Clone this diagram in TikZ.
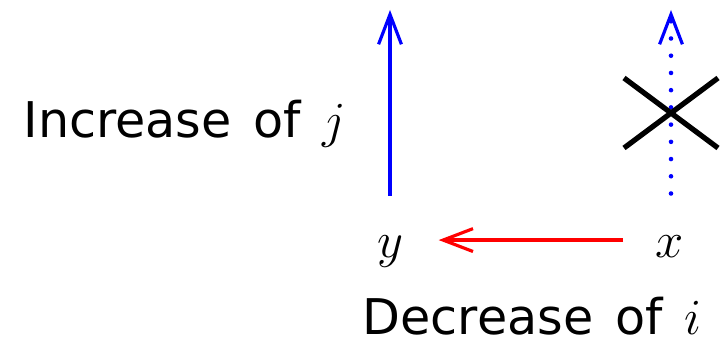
\documentclass[tikz,border=0pt]{standalone}
\usepackage{fontspec}
\setsansfont{DejaVu Sans}[WordSpace=1.4]
\usepackage{tikz}
\usetikzlibrary{arrows.meta,positioning,calc}

\begin{document}
\begin{tikzpicture}[
    every node/.style={font=\fontsize{15}{18}\selectfont, inner sep=0pt},
    labelnode/.style={anchor=base},
    dirtext/.style={font=\sffamily\fontsize{14}{17}\selectfont},
    movearrow/.style={line width=1.3pt, -{Straight Barb[length=8.5pt,width=6.5pt,line width=0.9pt]}},
    crossline/.style={line width=1.5pt, black},
]
\useasboundingbox (0,0) rectangle (7.22,3.41);

% Points
\node[labelnode] (y) at (3.90,0.83) {$y$};
\node[labelnode] (x) at (6.70,0.83) {$x$};
\coordinate (ytip) at (3.90,3.31);
\coordinate (xtip) at (6.71,3.31);

% Direction labels
\node[dirtext, anchor=base east] (incj) at (3.47,2.03) {Increase of $j$};
\node[dirtext, anchor=base west] (deci) at (3.62,0.06) {Decrease of $i$};

% Allowed and forbidden moves
\draw[movearrow, blue, shorten <=0.40cm] (y.north) -- (ytip);
\draw[movearrow, red, shorten <=0.32cm, shorten >=0.35cm]
    ([yshift=2pt]x.west) -- ([yshift=2pt]x.west -| y.east);
\draw[movearrow, blue, dash pattern=on 0pt off 4.9pt, line cap=round, shorten <=0.42cm] (x.north -| xtip) -- (xtip);

% Cross over the forbidden move
\coordinate (cross) at (6.71,2.28);
\draw[crossline] ($(cross)+(-0.47,-0.35)$) -- ($(cross)+(0.47,0.35)$);
\draw[crossline] ($(cross)+(-0.47,0.35)$) -- ($(cross)+(0.47,-0.35)$);

\end{tikzpicture}
\end{document}
